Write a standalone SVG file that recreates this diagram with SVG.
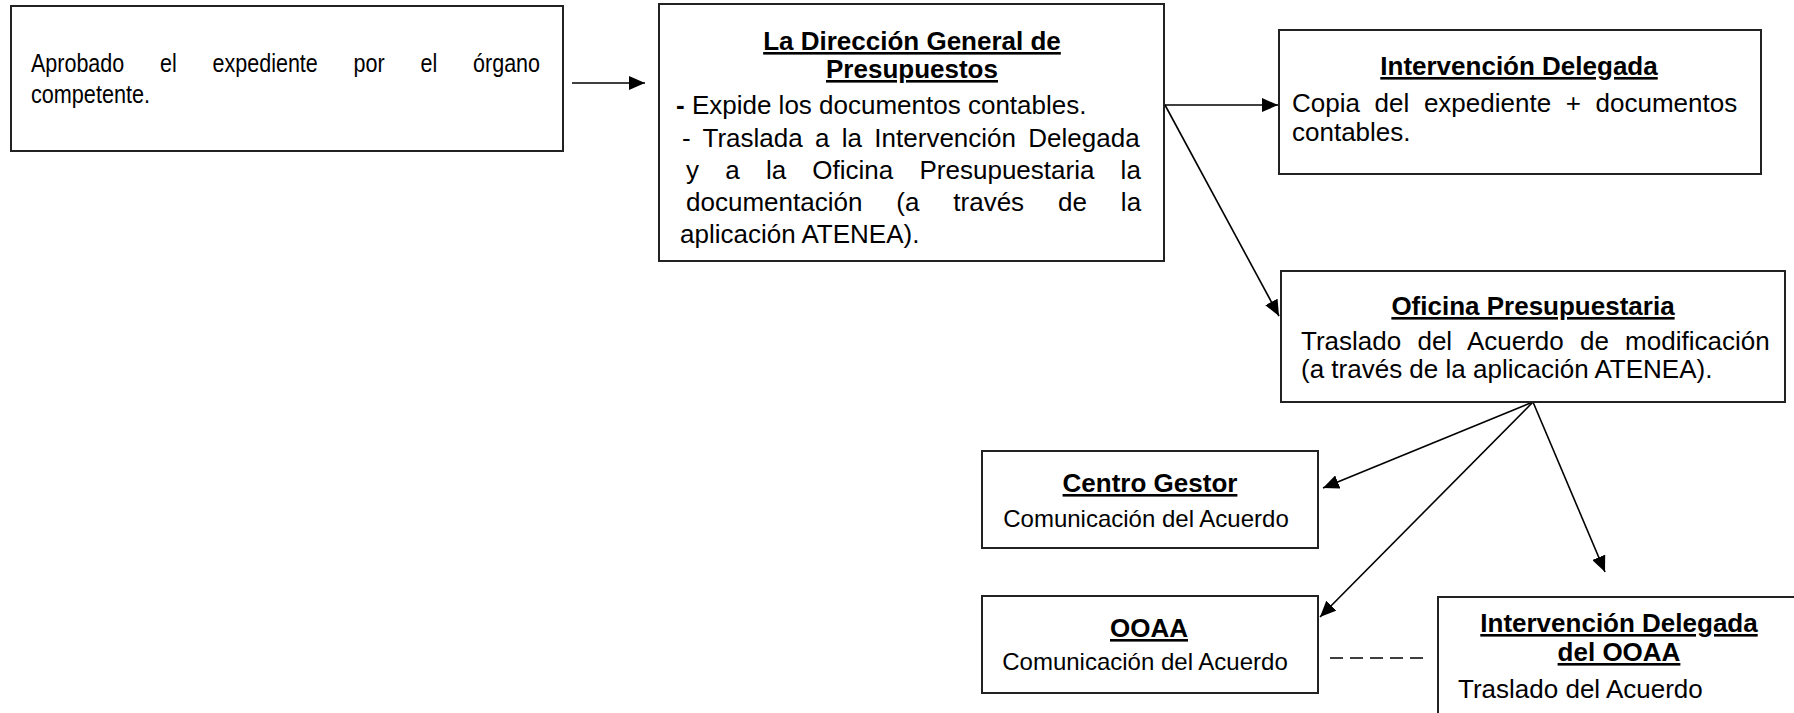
<svg xmlns="http://www.w3.org/2000/svg" width="1794" height="713" viewBox="0 0 1794 713">
<style>
.box{fill:#fff;stroke:#222;stroke-width:2}
.t{font-family:"Liberation Sans",Arial,sans-serif;fill:#000}
.ti{font-weight:bold;font-size:26px;text-anchor:middle;text-decoration:underline}
.b{font-size:26px}
.s{font-size:24px}
.c{stroke:#000;stroke-width:1.6;fill:none}
</style>
<defs>
<marker id="ah" markerUnits="userSpaceOnUse" markerWidth="17" markerHeight="14" refX="16" refY="7" orient="auto">
<path d="M0,0 L16,7 L0,14 z" fill="#000"/>
</marker>
</defs>
<g id="connectors">
<line class="c" x1="572" y1="83" x2="645" y2="83" marker-end="url(#ah)"/>
<line class="c" x1="1165" y1="105" x2="1278" y2="105" marker-end="url(#ah)"/>
<line class="c" x1="1165" y1="105" x2="1279" y2="316" marker-end="url(#ah)"/>
<line class="c" x1="1533" y1="402" x2="1323" y2="488" marker-end="url(#ah)"/>
<line class="c" x1="1533" y1="402" x2="1320" y2="617" marker-end="url(#ah)"/>
<line class="c" x1="1533" y1="402" x2="1605" y2="572" marker-end="url(#ah)"/>
<line class="c" x1="1330" y1="658" x2="1423" y2="658" stroke-dasharray="13 7"/>
</g>
<g id="n1">
<rect class="box" x="11" y="6" width="552" height="145"/>
<text class="t" font-size="25" x="31" y="72" word-spacing="34.7" textLength="509" lengthAdjust="spacingAndGlyphs">Aprobado el expediente por el órgano</text>
<text class="t" font-size="25" x="31" y="103" textLength="119" lengthAdjust="spacingAndGlyphs">competente.</text>
</g>
<g id="n2">
<rect class="box" x="659" y="4" width="505" height="257"/>
<text class="t ti" x="912" y="50">La Dirección General de</text>
<text class="t ti" x="912" y="78">Presupuestos</text>
<text class="t b" x="676" y="114"><tspan font-weight="bold">-</tspan> Expide los documentos contables.</text>
<text class="t b" x="682" y="146.5" word-spacing="5.1">- Traslada a la Intervención Delegada</text>
<text class="t b" x="686" y="179" word-spacing="19">y a la Oficina Presupuestaria la</text>
<text class="t b" x="686" y="211" word-spacing="26.7">documentación (a través de la</text>
<text class="t b" x="680" y="243">aplicación ATENEA).</text>
</g>
<g id="n3">
<rect class="box" x="1279" y="30" width="482" height="144"/>
<text class="t ti" x="1519" y="75">Intervención Delegada</text>
<text class="t b" x="1292" y="112" word-spacing="7.4">Copia del expediente + documentos</text>
<text class="t b" x="1292" y="141">contables.</text>
</g>
<g id="n4">
<rect class="box" x="1281" y="271" width="504" height="131"/>
<text class="t ti" x="1533" y="315">Oficina Presupuestaria</text>
<text class="t b" x="1301" y="350" word-spacing="9">Traslado del Acuerdo de modificación</text>
<text class="t b" x="1301" y="378">(a través de la aplicación ATENEA).</text>
</g>
<g id="n5">
<rect class="box" x="982" y="451" width="336" height="97"/>
<text class="t ti" x="1150" y="492">Centro Gestor</text>
<text class="t s" x="1146" y="527" text-anchor="middle">Comunicación del Acuerdo</text>
</g>
<g id="n6">
<rect class="box" x="982" y="596" width="336" height="97"/>
<text class="t ti" x="1149" y="637">OOAA</text>
<text class="t s" x="1145" y="670" text-anchor="middle">Comunicación del Acuerdo</text>
</g>
<g id="n7">
<rect class="box" x="1438" y="597" width="380" height="140"/>
<text class="t ti" x="1619" y="632">Intervención Delegada</text>
<text class="t ti" x="1619" y="661">del OOAA</text>
<text class="t b" x="1458" y="698">Traslado del Acuerdo</text>
</g>
</svg>
